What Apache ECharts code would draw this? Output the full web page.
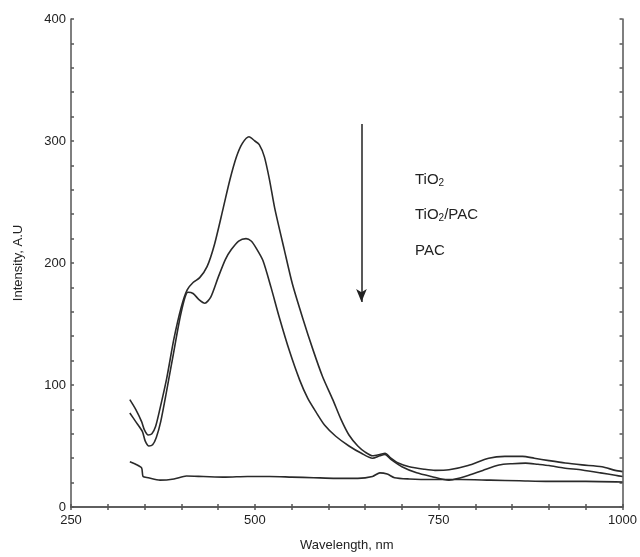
<!DOCTYPE html>
<html>
<head>
<meta charset="utf-8">
<script src="https://cdn.jsdelivr.net/npm/echarts@6/dist/echarts.min.js"></script>
<style>html,body{margin:0;padding:0;background:#fff;}#c{width:640px;height:557px;}</style>
</head>
<body>
<div id="c"></div>
<script>
// Wavelength (nm) and intensity (A.U)
const tio2Wl = [330,338,346,350,355,360,365,370,380,390,400,408,416,425,435,445,457,466,475,483,492,500,506,513,520,527,540,551,565,579,592,606,617,628,640,650,660,670,677,685,695,710,730,745,764,790,818,840,864,880,900,922,945,972,990,1000];
const tio2Val = [88,80,70,63,59,60,66,78,105,138,164,178,184,188,197,215,245,268,287,298,303.5,300,297,287,268,245,211,183,155,129,107,88,72,59,50,45,42,43,44,40,36,33,31,30,30.5,34,40,41.5,41.5,40,38,36,34.5,33,30,29];
const tpWl = [330,338,347,351,356,361,366,372,380,390,400,409,416,424,432,440,450,460,468,478,488,495,502,511,522,533,547,561,572,583,595,610,628,645,660,670,677,685,700,720,740,764,780,791,810,832,850,868,885,900,920,945,970,990,1000];
const tpVal = [77,70,62,54,50,51,57,70,95,128,160,176,175,170,167,172,188,203,211,218,220,218,212,202,180,156,128,104,89,78,67,58,50,44,40,42,43,39,33,28,25,22,24,26,30,34.4,35.5,36,35,34,32,30.3,28,26,25];
const pacWl = [330,338,346,348,355,371,390,407,430,460,490,520,550,580,610,640,660,670,680,690,710,740,780,820,860,900,950,1000];
const pacVal = [37,35,32,25,24,22,23,25.4,25,24.5,25,25,24.5,24,23.5,23.5,25,28,27,24,23,22.5,22.5,22,21.5,21,21,20.5];
const xTicks = [250, 500, 750, 1000];
const yTicks = [0, 100, 200, 300, 400];
const legendNames = ['TiO2', 'TiO2/PAC', 'PAC'];

const zip = (a, b) => a.map((v, i) => [v, b[i]]);
const axisCol = '#555';
const font = 'Liberation Sans, Arial, sans-serif';

const chart = echarts.init(document.getElementById('c'), null, {renderer: 'canvas'});
const lineStyle = {color: '#2a2a2a', width: 1.6};
const mkSeries = (name, data) => ({
  name, type: 'line', data, showSymbol: false, symbol: 'none', smooth: 0.25,
  lineStyle, silent: true, animation: false
});
const baseAxis = {
  axisLine: {show: true, lineStyle: {color: axisCol, width: 1.5}},
  axisTick: {show: true, inside: true, length: 3, lineStyle: {color: axisCol, width: 1.5}},
  minorTick: {show: true, splitNumber: 5, length: 3, lineStyle: {color: axisCol, width: 1.5}},
  splitLine: {show: false}
};
const rich = {
  a: {fontFamily: font, fontSize: 15, fill: '#222'},
  s: {fontFamily: font, fontSize: 10, fill: '#222', padding: [8, 0, 0, 0]}
};
chart.setOption({
  animation: false,
  grid: {left: 71, right: 16, top: 19, bottom: 50},
  xAxis: [
    Object.assign({}, baseAxis, {
      type: 'value', position: 'bottom', min: xTicks[0], max: xTicks[xTicks.length-1], interval: 250,
      name: 'Wavelength, nm', nameLocation: 'middle', nameGap: 32,
      nameTextStyle: {fontFamily: font, fontSize: 13, color: '#222'},
      axisLabel: {fontFamily: font, fontSize: 13, color: '#222', margin: 7, formatter: v => String(v)}
    }),
    Object.assign({}, baseAxis, {
      type: 'value', position: 'top', min: 250, max: 1000, interval: 250,
      axisLabel: {show: false}
    })
  ],
  yAxis: [
    Object.assign({}, baseAxis, {
      type: 'value', position: 'left', min: yTicks[0], max: yTicks[yTicks.length-1], interval: 100,
      name: 'Intensity, A.U', nameLocation: 'middle', nameGap: 46, nameRotate: 90,
      nameTextStyle: {fontFamily: font, fontSize: 13, color: '#222'},
      axisLabel: {fontFamily: font, fontSize: 13, color: '#222', margin: 5}
    }),
    Object.assign({}, baseAxis, {
      type: 'value', position: 'right', min: 0, max: 400, interval: 100,
      axisLabel: {show: false}
    })
  ],
  series: [
    mkSeries(legendNames[0], zip(tio2Wl, tio2Val)),
    mkSeries(legendNames[1], zip(tpWl, tpVal)),
    Object.assign(mkSeries(legendNames[2], zip(pacWl, pacVal)), {
      markLine: {
        silent: true, animation: false,
        symbol: ['none', 'arrow'], symbolSize: [8, 13],
        lineStyle: {color: '#222', width: 1.5, type: 'solid'},
        label: {show: false},
        data: [[{coord: [645, 314]}, {coord: [645, 168]}]]
      }
    })
  ],
  graphic: [
    {type: 'text', left: 415, top: 172, style: {rich, text: '{a|TiO}{s|2}'}},
    {type: 'text', left: 415, top: 207, style: {rich, text: '{a|TiO}{s|2}{a|/PAC}'}},
    {type: 'text', left: 415, top: 243, style: {text: 'PAC', fontFamily: font, fontSize: 15, fill: '#222'}}
  ]
});
</script>
</body>
</html>
